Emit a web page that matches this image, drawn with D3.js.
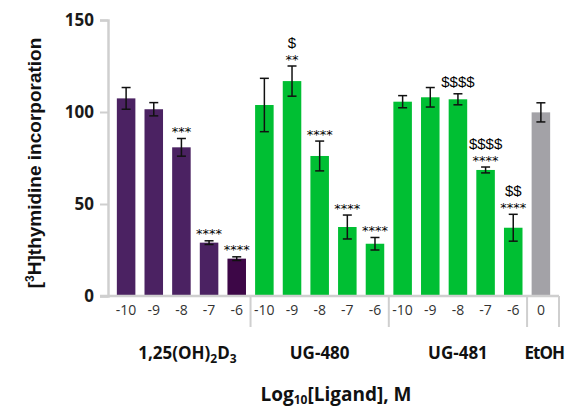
<!DOCTYPE html>
<html><head><meta charset="utf-8">
<script src="https://cdn.jsdelivr.net/npm/d3@7"></script>
<style>
body{margin:0;background:#fff;}
svg{display:block;font-family:"Open Sans","Lato",sans-serif;}
</style></head>
<body><div id="chart"></div>
<script>
const doses = ["-10","-9","-8","-7","-6","-10","-9","-8","-7","-6","-10","-9","-8","-7","-6","0"];
const groups = ["D3","D3","D3","D3","D3","UG480","UG480","UG480","UG480","UG480","UG481","UG481","UG481","UG481","UG481","EtOH"];
const values = [107.4,101.5,80.8,29.0,20.3, 103.8,116.8,76.1,37.5,28.4, 105.6,108.0,106.9,68.5,37.1, 99.8];
const errors = [5.9,3.6,4.8,1.0,1.0, 14.5,8.2,8.1,6.5,3.4, 3.3,5.3,3.0,1.6,7.3, 5.2];
const stars = ["","","***","****","****", "","**","****","****","****", "","","","****","****", ""];
const dollars = ["","","","","", "","$","","","", "","","$$$$","$$$$","$$", ""];
const yTicks = [0,50,100,150];
const groupNames = [
  {key:"D3", first:0, last:4},
  {key:"UG480", first:5, last:9},
  {key:"UG481", first:10, last:14},
  {key:"EtOH", first:15, last:15}
];
const colors = ["#4b2262","#4b2262","#4b2262","#4b2262","#3d0747",
  "#00bf33","#00bf33","#00bf33","#00bf33","#00bf33",
  "#00bf33","#00bf33","#00bf33","#00bf33","#00bf33","#a3a2a7"];

const W=566,H=407;
const svg=d3.select("#chart").append("svg").attr("width",W).attr("height",H);
const x=d3.scaleBand().domain(d3.range(16)).range([108,559]).paddingInner(0.33).paddingOuter(0.32);
const y=d3.scaleLinear().domain([0,150]).range([296,20]);
const axisCol="#cfcfcf";

// bars
svg.append("g").selectAll("rect").data(values).join("rect")
  .attr("x",(d,i)=>x(i)).attr("width",x.bandwidth())
  .attr("y",d=>y(d)).attr("height",d=>y(0)-y(d))
  .attr("fill",(d,i)=>colors[i]);

// error bars
const eg=svg.append("g").attr("stroke","#111").attr("stroke-width",1.5);
values.forEach((v,i)=>{
  const cx=x(i)+x.bandwidth()/2;
  eg.append("line").attr("x1",cx).attr("x2",cx).attr("y1",y(v+errors[i])).attr("y2",y(v-errors[i]));
  eg.append("line").attr("x1",cx-4.5).attr("x2",cx+4.5).attr("y1",y(v+errors[i])).attr("y2",y(v+errors[i]));
  eg.append("line").attr("x1",cx-4.5).attr("x2",cx+4.5).attr("y1",y(v-errors[i])).attr("y2",y(v-errors[i]));
});

// annotations
values.forEach((v,i)=>{
  const cx=x(i)+x.bandwidth()/2;
  const top=y(v+errors[i]);
  if(stars[i]) svg.append("text").attr("x",cx).attr("y",top-2.4).attr("text-anchor","middle")
    .attr("font-size",13).attr("fill","#000").attr("font-family","DejaVu Sans").text(stars[i]);
  if(dollars[i]) svg.append("text").attr("x",cx).attr("y",top-(stars[i]?18:7)).attr("text-anchor","middle")
    .attr("font-size",15).attr("fill","#000").attr("font-family","Liberation Sans").text(dollars[i]);
});

// y axis
const ya=svg.append("g").attr("transform","translate(108,0)")
  .call(d3.axisLeft(y).tickValues(yTicks).tickSize(8).tickPadding(6));
ya.select(".domain").attr("stroke",axisCol).attr("stroke-width",2.5);
ya.selectAll(".tick line").attr("stroke",axisCol).attr("stroke-width",2);
ya.selectAll(".tick text").attr("font-size",17).attr("font-weight","bold").attr("fill","#1a1a1a")
  .attr("font-family","Open Sans");

// x axis line
svg.append("line").attr("x1",100).attr("x2",559).attr("y1",y(0)).attr("y2",y(0))
  .attr("stroke",axisCol).attr("stroke-width",2.5);
// separators
const seps=[x(4)+x.bandwidth()+x.step()*x.paddingInner()/2, x(9)+x.bandwidth()+x.step()*x.paddingInner()/2,
  x(14)+x.bandwidth()+x.step()*x.paddingInner()/2, 559];
svg.append("g").selectAll("line").data(seps).join("line")
  .attr("x1",d=>d).attr("x2",d=>d).attr("y1",y(0)).attr("y2",327)
  .attr("stroke",axisCol).attr("stroke-width",2);

// x tick labels
svg.append("g").selectAll("text").data(doses).join("text")
  .attr("x",(d,i)=>x(i)+x.bandwidth()/2).attr("y",315).attr("text-anchor","middle")
  .attr("font-size",14).attr("fill","#333").text(d=>d);

// group labels
const gl=svg.append("g").attr("font-weight","bold").attr("font-size",17).attr("fill","#111");
groupNames.forEach(g=>{
  const cx=(x(g.first)+x(g.last)+x.bandwidth())/2;
  const t=gl.append("text").attr("y",359).attr("text-anchor","middle");
  if(g.key==="D3"){
    t.attr("x",cx+6);
    t.append("tspan").text("1,25(OH)");
    t.append("tspan").attr("font-size",12).attr("dy",4).text("2");
    t.append("tspan").attr("dy",-4).text("D");
    t.append("tspan").attr("font-size",12).attr("dy",4).text("3");
  } else if(g.key==="UG480"){ t.attr("x",cx).text("UG-480"); }
  else if(g.key==="UG481"){ t.attr("x",cx).text("UG-481"); }
  else { t.attr("x",564).attr("text-anchor","end").attr("letter-spacing",-1).text("EtOH"); }
});

// x title
const xt=svg.append("text").attr("x",336).attr("y",400.5).attr("text-anchor","middle")
  .attr("font-weight","bold").attr("font-size",19).attr("fill","#111");
xt.append("tspan").text("Log");
xt.append("tspan").attr("font-size",12).attr("dy",3).text("10");
xt.append("tspan").attr("dy",-3).text("[Ligand], M");

// y title
const yt=svg.append("text").attr("transform","translate(41,163) rotate(-90)").attr("text-anchor","middle")
  .attr("font-weight","bold").attr("font-size",19).attr("fill","#111")
  .attr("font-family","Liberation Sans, Arial, sans-serif");
yt.append("tspan").text("[");
yt.append("tspan").attr("font-size",12).attr("dy",-7).text("3");
yt.append("tspan").attr("dy",7).text("H]thymidine incorporation");
</script></body></html>
